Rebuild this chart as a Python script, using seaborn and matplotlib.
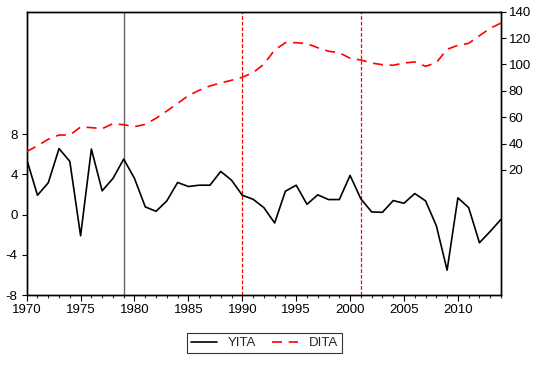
import numpy as np
import pandas as pd
import matplotlib
matplotlib.use("Agg")
import matplotlib.pyplot as plt
from matplotlib.ticker import MultipleLocator
import seaborn as sns

years = list(range(1970, 2015))

yita = [5.5, 1.93, 3.17, 6.57, 5.3, -2.1, 6.53, 2.37, 3.6, 5.53,
        3.6, 0.77, 0.33, 1.37, 3.2, 2.8, 2.93, 2.93, 4.3, 3.43,
        1.93, 1.53, 0.7, -0.83, 2.33, 2.93, 1.03, 1.97, 1.5, 1.5,
        3.9, 1.57, 0.27, 0.23, 1.4, 1.13, 2.1, 1.37, -1.1, -5.53,
        1.67, 0.7, -2.8, -1.67, -0.47]

dita = [33.9, 38.4, 43.3, 46.5, 46.5, 52.6, 52.1, 51.3, 55.1, 54.3,
        52.8, 54.6, 59.2, 64.7, 70.5, 76.4, 80.4, 83.7, 86.0, 88.0,
        90.3, 93.8, 100.1, 111.0, 116.5, 116.5, 115.8, 112.7, 110.0, 108.9,
        104.7, 103.4, 101.1, 99.8, 99.4, 101.1, 101.9, 98.6, 101.3, 111.5,
        114.5, 116.0, 121.8, 127.4, 131.4]

break_solid = 1979
break_dashed = [1990, 2001]

left_ticks = [-8, -4, 0, 4, 8]
right_ticks = [20, 40, 60, 80, 100, 120, 140]

df = pd.DataFrame({"year": years, "YITA": yita, "DITA": dita})

sns.set_style("ticks")
plt.rcParams["font.family"] = ["Liberation Sans", "DejaVu Sans"]
plt.rcParams["font.size"] = 9.5
plt.rcParams["axes.unicode_minus"] = False

fig = plt.figure(figsize=(5.39, 3.66), dpi=100)
ax = fig.add_axes([26.7 / 539, 1 - 295 / 366, (501 - 26.7) / 539, (295 - 11.7) / 366])
ax2 = ax.twinx()

ax.axvline(break_solid, color="#666666", lw=1.0, zorder=1)
for yr in break_dashed:
    ax.axvline(yr, color="red", lw=0.9, ls=(0, (3, 1.5)), zorder=1)

sns.lineplot(data=df, x="year", y="YITA", ax=ax, color="black", lw=1.2, zorder=3)
sns.lineplot(data=df, x="year", y="DITA", ax=ax2, color="red", lw=1.2,
             dashes=False, zorder=3)
ax2.lines[-1].set_dashes([6, 4])

ax.set_xlim(1970, 2014)
ax.set_ylim(-8, 20.2)
ax2.set_ylim(-74.8, 140)
ax.set_yticks(left_ticks)
ax2.set_yticks(right_ticks)
ax.xaxis.set_major_locator(MultipleLocator(5))
ax.xaxis.set_minor_locator(MultipleLocator(1))
ax.set_xlabel("")
ax.set_ylabel("")
ax2.set_ylabel("")

for a in (ax, ax2):
    for s in a.spines.values():
        s.set_visible(True)
        s.set_color("black")
        s.set_linewidth(1.0)
ax.tick_params(axis="x", which="major", length=4.5, width=0.8, pad=2, colors="black")
ax.tick_params(axis="x", which="minor", length=2.5, width=0.8)
ax.tick_params(axis="y", length=3.5, width=0.8, pad=3, colors="black")
ax2.tick_params(axis="y", length=3.5, width=0.8, pad=2, colors="black")

handles = [ax.lines[-1], ax2.lines[-1]]
leg = fig.legend(handles, ["YITA", "DITA"], loc="center",
                 bbox_to_anchor=(264.5 / 539, 1 - 343 / 366), ncol=2,
                 frameon=True, fancybox=False, handlelength=2.0,
                 handletextpad=0.8, columnspacing=1.2, borderpad=0.3,
                 fontsize=9.5)
leg.get_frame().set_edgecolor("black")
leg.get_frame().set_linewidth(0.8)

fig.savefig("out.png", dpi=100)
